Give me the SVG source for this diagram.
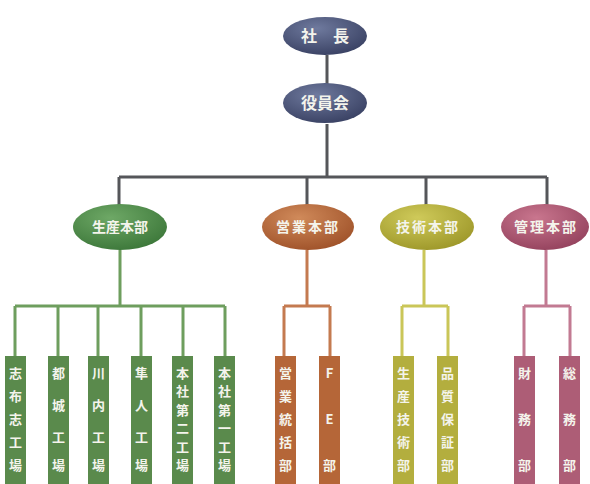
<svg xmlns="http://www.w3.org/2000/svg" width="590" height="484" viewBox="0 0 590 484">
<style>
text{font-family:"Noto Sans CJK JP","Noto Sans CJK SC",sans-serif;fill:#f4f4ec;font-weight:bold;text-anchor:middle}
.top{font-size:16px}
.dep{font-size:14px}
.box{font-size:13px}
.c{fill:none;stroke-width:3}
</style>
<defs>
<radialGradient id="gN" cx="0.4" cy="0.3" r="0.7"><stop offset="0" stop-color="#6f7a9e"/><stop offset="1" stop-color="#3c4466"/></radialGradient>
<radialGradient id="gG" cx="0.4" cy="0.3" r="0.7"><stop offset="0" stop-color="#6ea866"/><stop offset="1" stop-color="#3f7a3c"/></radialGradient>
<radialGradient id="gO" cx="0.4" cy="0.3" r="0.7"><stop offset="0" stop-color="#d08a5a"/><stop offset="1" stop-color="#a2552c"/></radialGradient>
<radialGradient id="gY" cx="0.4" cy="0.3" r="0.7"><stop offset="0" stop-color="#cfca5a"/><stop offset="1" stop-color="#a09a2c"/></radialGradient>
<radialGradient id="gP" cx="0.4" cy="0.3" r="0.7"><stop offset="0" stop-color="#c9768e"/><stop offset="1" stop-color="#974560"/></radialGradient>
</defs>
<g id="connectors">
<path class="c" stroke="#55565a" stroke-width="2.5" d="M327 55V84M327 124V177M119 177H547M119 177V205M307 177V205M426 177V205M547 177V205"/>
<path class="c" stroke="#6e9e5e" d="M120 250V306M15 306H225M15 306V357M58 306V357M98 306V357M141 306V357M183 306V357M225 306V357"/>
<path class="c" stroke="#c47a50" d="M307 250V306M284 306H330M284 306V357M330 306V357"/>
<path class="c" stroke="#cac658" d="M424 250V306M402 306H448M402 306V357M448 306V357"/>
<path class="c" stroke="#c27a92" d="M546 250V306M524 306H570M524 306V357M570 306V357"/>
</g>
<g id="shacho"><ellipse cx="325" cy="36" rx="42" ry="19" fill="url(#gN)"/><text class="top" x="325" y="42">社　長</text></g>
<g id="yakuinkai"><ellipse cx="325" cy="103" rx="42" ry="20" fill="url(#gN)"/><text class="top" x="325" y="109">役員会</text></g>
<g id="seisan"><ellipse cx="120" cy="227" rx="47" ry="23" fill="url(#gG)"/><text class="dep" x="120" y="232">生産本部</text></g>
<g id="eigyo"><ellipse cx="308" cy="227" rx="46" ry="23" fill="url(#gO)"/><text class="dep" x="308" y="232" letter-spacing="2">営業本部</text></g>
<g id="gijutsu"><ellipse cx="427" cy="227" rx="47" ry="23" fill="url(#gY)"/><text class="dep" x="428" y="232" letter-spacing="2">技術本部</text></g>
<g id="kanri"><ellipse cx="545" cy="227" rx="44" ry="23" fill="url(#gP)"/><text class="dep" x="546" y="232" letter-spacing="2">管理本部</text></g>
<g id="shibushi"><rect x="5" y="356" width="21" height="128" fill="#5a8a4c"/><text class="box"><tspan x="15.5" y="378">志</tspan><tspan x="15.5" y="401">布</tspan><tspan x="15.5" y="424">志</tspan><tspan x="15.5" y="447">工</tspan><tspan x="15.5" y="470">場</tspan></text></g>
<g id="miyakonojo"><rect x="48" y="356" width="21" height="128" fill="#5a8a4c"/><text class="box"><tspan x="58.5" y="378">都</tspan><tspan x="58.5" y="410">城</tspan><tspan x="58.5" y="442">工</tspan><tspan x="58.5" y="470">場</tspan></text></g>
<g id="sendai"><rect x="88" y="356" width="21" height="128" fill="#5a8a4c"/><text class="box"><tspan x="98.5" y="378">川</tspan><tspan x="98.5" y="410">内</tspan><tspan x="98.5" y="442">工</tspan><tspan x="98.5" y="470">場</tspan></text></g>
<g id="hayato"><rect x="131" y="356" width="21" height="128" fill="#5a8a4c"/><text class="box"><tspan x="141.5" y="378">隼</tspan><tspan x="141.5" y="410">人</tspan><tspan x="141.5" y="442">工</tspan><tspan x="141.5" y="470">場</tspan></text></g>
<g id="honsha2"><rect x="172" y="356" width="21" height="128" fill="#5a8a4c"/><text class="box"><tspan x="182.5" y="378">本</tspan><tspan x="182.5" y="396.4">社</tspan><tspan x="182.5" y="414.8">第</tspan><tspan x="182.5" y="433.2">二</tspan><tspan x="182.5" y="451.6">工</tspan><tspan x="182.5" y="470">場</tspan></text></g>
<g id="honsha1"><rect x="214" y="356" width="21" height="128" fill="#5a8a4c"/><text class="box"><tspan x="224.5" y="378">本</tspan><tspan x="224.5" y="396.4">社</tspan><tspan x="224.5" y="414.8">第</tspan><tspan x="224.5" y="433.2">一</tspan><tspan x="224.5" y="451.6">工</tspan><tspan x="224.5" y="470">場</tspan></text></g>
<g id="eigyotokatsu"><rect x="275" y="356" width="21" height="128" fill="#b56638"/><text class="box"><tspan x="285.5" y="378">営</tspan><tspan x="285.5" y="401">業</tspan><tspan x="285.5" y="424">統</tspan><tspan x="285.5" y="447">括</tspan><tspan x="285.5" y="470">部</tspan></text></g>
<g id="fe"><rect x="319" y="356" width="21" height="128" fill="#b56638"/><text class="box"><tspan x="329.5" y="378">F</tspan><tspan x="329.5" y="424">E</tspan><tspan x="329.5" y="470">部</tspan></text></g>
<g id="seisangijutsu"><rect x="393" y="356" width="21" height="128" fill="#b3ae3e"/><text class="box"><tspan x="403.5" y="378">生</tspan><tspan x="403.5" y="401">産</tspan><tspan x="403.5" y="424">技</tspan><tspan x="403.5" y="447">術</tspan><tspan x="403.5" y="470">部</tspan></text></g>
<g id="hinshitsu"><rect x="437" y="356" width="21" height="128" fill="#b3ae3e"/><text class="box"><tspan x="447.5" y="378">品</tspan><tspan x="447.5" y="401">質</tspan><tspan x="447.5" y="424">保</tspan><tspan x="447.5" y="447">証</tspan><tspan x="447.5" y="470">部</tspan></text></g>
<g id="zaimu"><rect x="514" y="356" width="21" height="128" fill="#ad5d76"/><text class="box"><tspan x="524.5" y="378">財</tspan><tspan x="524.5" y="424">務</tspan><tspan x="524.5" y="470">部</tspan></text></g>
<g id="somu"><rect x="559" y="356" width="21" height="128" fill="#ad5d76"/><text class="box"><tspan x="569.5" y="378">総</tspan><tspan x="569.5" y="424">務</tspan><tspan x="569.5" y="470">部</tspan></text></g>
</svg>
